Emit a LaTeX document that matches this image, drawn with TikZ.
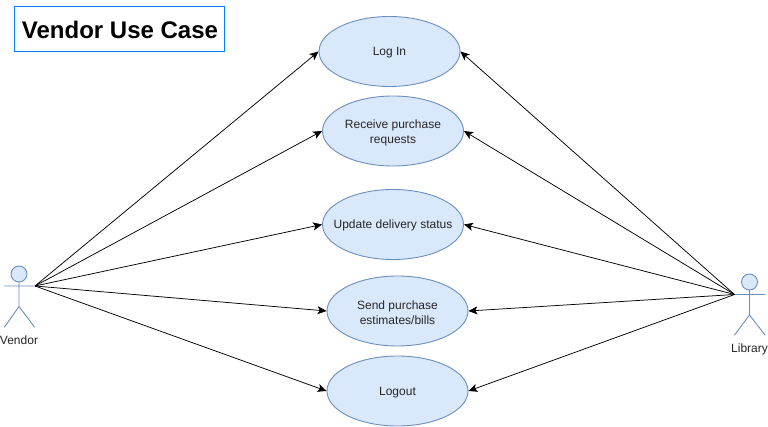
\documentclass[tikz,border=0pt]{standalone}
\usepackage{fontspec}
\setmainfont{Liberation Sans}
\usetikzlibrary{shapes.geometric,arrows.meta}
\definecolor{ucfill}{HTML}{DAE8FC}
\definecolor{ucline}{HTML}{6C8EBF}
\definecolor{titleline}{HTML}{007FFF}
\newcommand{\dropline}[1]{\raisebox{-1.7pt}[\height][\depth]{#1}}
\tikzset{
  x=1pt,y=-1pt,
  usecase/.style={ellipse,draw=ucline,fill=ucfill,line width=0.9pt,minimum width=141pt,minimum height=70pt,inner xsep=-20pt,inner ysep=0pt,align=center,font=\fontsize{12}{15}\selectfont,text=black!85,execute at begin node={\rule{0pt}{11pt}}},
  actorline/.style={draw=ucline,line width=0.9pt,line cap=round},
  actorhead/.style={circle,draw=ucline,fill=ucfill,line width=0.9pt,minimum size=16pt,inner sep=0pt},
  actorlabel/.style={font=\fontsize{12}{14}\selectfont,text=black!85,inner sep=0pt},
  link/.style={draw=black,line width=0.75pt,-{Stealth[length=9pt,width=8pt,inset=2.2pt]}},
  titlebox/.style={draw=titleline,fill=white,line width=0.9pt,minimum width=210pt,minimum height=44.5pt,inner sep=0pt,align=center,font=\fontsize{24}{28}\selectfont\bfseries,execute at begin node={\rule{0pt}{19.5pt}\hspace*{1pt}}}
}
\begin{document}
\begin{tikzpicture}
\useasboundingbox[fill=white] (0,0) rectangle (768,427);
\node[titlebox] (title) at (119.5,28.75) {Vendor Use Case};

\node[usecase] (login) at (389.5,51.5) {Log In};
\node[usecase] (receive) at (393,131) {\dropline{Receive purchase}\\\dropline{requests}};
\node[usecase] (update) at (393,224.5) {Update delivery status};
\node[usecase] (send) at (397.5,311) {\dropline{Send purchase}\\\dropline{estimates/bills}};
\node[usecase] (logout) at (397.5,391) {Logout};

% Vendor actor
\node[actorhead] (vhead) at (19,274) {};
\coordinate (vlarm) at (4.5,286);
\coordinate (vhand) at (35,286);
\coordinate (vhip) at (19,306.5);
\coordinate (vlfoot) at (4.5,327);
\coordinate (vrfoot) at (34.5,327);
\draw[actorline] (vhead.south) -- (vhip) (vlarm) -- (vhand) (vlfoot) -- (vhip) -- (vrfoot);
\node[actorlabel] (vlabel) at (19,340) {Vendor};

% Library actor
\node[actorhead] (lhead) at (749.5,282) {};
\coordinate (llarm) at (734.5,294.5);
\coordinate (lrarm) at (765,294.5);
\coordinate (lhip) at (749.5,315);
\coordinate (llfoot) at (734.5,335);
\coordinate (lrfoot) at (765,335);
\draw[actorline] (lhead.south) -- (lhip) (llarm) -- (lrarm) (llfoot) -- (lhip) -- (lrfoot);
\node[actorlabel] (llabel) at (749.5,349) {Library};

% Connectors
\foreach \t in {login,receive,update,send,logout}{
  \draw[link] (vhand) -- (\t.west);
  \draw[link] (llarm) -- (\t.east);
}
\end{tikzpicture}
\end{document}
